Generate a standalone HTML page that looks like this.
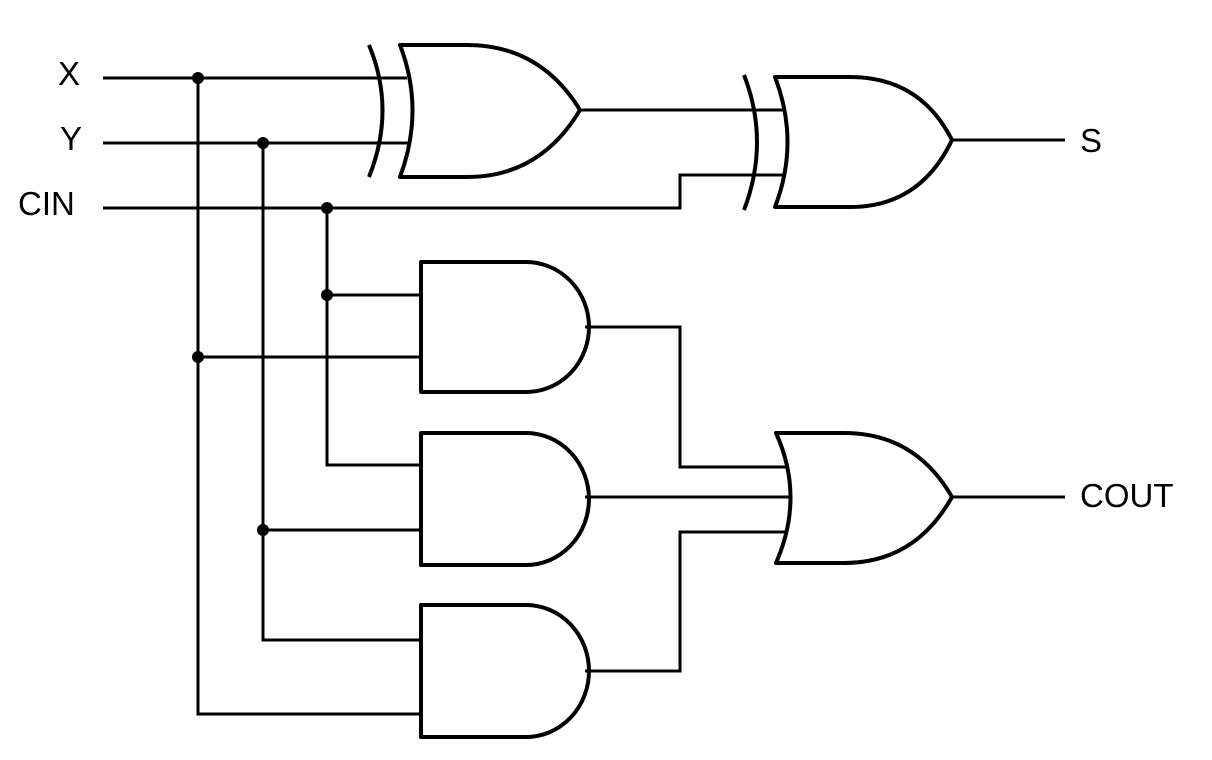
<!DOCTYPE html>
<html><head><style>body{margin:0;background:#fff}svg{display:block}</style></head><body>
<svg width="1212" height="760" viewBox="0 0 1212 760" xmlns="http://www.w3.org/2000/svg">
<g fill="none" stroke="#000" stroke-width="3">
<path d="M103 78H407M103 143H410M103 208H680V175H786M580 110H786M952 140H1065"/>
<path d="M198 78V714H422M263 143V640H422M327 208V465H422M327 295H422M198 357H422M263 530H422"/>
<path d="M585 327H680V467H788M585 497H792M585 671H680V532H788M952 497H1065"/>
</g>
<g fill="none" stroke="#000" stroke-width="4" stroke-linejoin="round">
<path d="M400 45L467 45Q540 45 580 110Q540 177 467 177L400 177Q425 110 400 45Z"/>
<path d="M369 45Q396 110 369 177"/>
<path d="M775 77L850 77Q920 77 952 140Q920 207 850 207L775 207Q800 142 775 77Z"/>
<path d="M744 75Q770 142 744 210"/>
<path d="M776 433L844 433Q915 433 952 497Q915 563 844 563L776 563Q805 497 776 433Z"/>
<path d="M421 262H526A63 65 0 0 1 526 392H421Z"/>
<path d="M421 433H526A63 66 0 0 1 526 565H421Z"/>
<path d="M421 605H526A63 66 0 0 1 526 737H421Z"/>
</g>
<g fill="#000">
<circle cx="198" cy="78" r="6"/><circle cx="263" cy="143" r="6"/><circle cx="327" cy="208" r="6"/>
<circle cx="327" cy="295" r="6"/><circle cx="198" cy="357" r="6"/><circle cx="263" cy="530" r="6"/>
</g>
<g font-family="Liberation Sans, sans-serif" font-size="33" fill="#000">
<text x="58" y="85">X</text><text x="60" y="150">Y</text><text x="18" y="215">CIN</text>
<text x="1080" y="152">S</text><text x="1080" y="507">COUT</text>
</g>
</svg>
</body></html>
